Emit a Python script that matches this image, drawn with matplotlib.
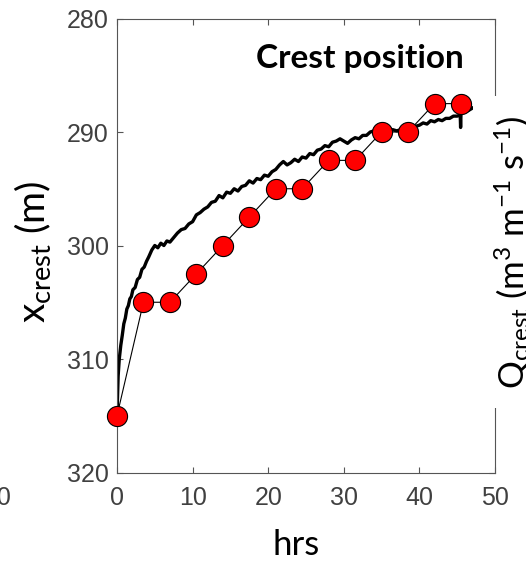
import matplotlib
matplotlib.use('Agg')
import matplotlib.pyplot as plt
from matplotlib.patches import Rectangle

# Observed crest position (markers)
hrs_obs = [0, 3.5, 7, 10.5, 14, 17.5, 21, 24.5, 28, 31.5, 35, 38.5, 42, 45.5]
x_obs = [315, 305, 305, 302.5, 300, 297.5, 295, 295, 292.5, 292.5, 290, 290, 287.5, 287.5]

# Modelled crest position (black noisy line)
hrs_mod = [0.0, 0.05, 0.15, 0.3, 0.5, 0.7, 0.9, 1.1, 1.3, 1.5, 1.7, 1.9, 2.1, 2.4, 2.7,
           3.0, 3.3, 3.6, 3.9, 4.2, 4.6, 5.0, 5.4, 5.8, 6.2, 6.6, 7.0, 7.5, 8.0, 8.5,
           9.0, 9.5, 10.0, 10.5, 11.0, 11.5, 12.0, 12.5, 13.0, 13.5, 14.0, 14.5, 15.0,
           15.5, 16.0, 16.5, 17.0, 17.5, 18.0, 18.5, 19.0, 19.5, 20.0, 20.5, 21.0, 21.5,
           22.0, 22.5, 23.0, 23.5, 24.0, 24.5, 25.0, 25.5, 26.0, 26.5, 27.0, 27.5, 28.0,
           28.5, 29.0, 29.5, 30.0, 30.5, 31.0, 31.5, 32.0, 32.5, 33.0, 33.5, 34.0, 34.5,
           35.0, 35.5, 36.0, 36.5, 37.0, 37.5, 38.0, 38.5, 39.0, 39.5, 40.0, 40.5, 41.0,
           41.5, 42.0, 42.5, 43.0, 43.5, 44.0, 44.5, 45.0, 45.4, 45.45, 45.5, 46.0, 46.5, 47.0]
x_mod = [315.0, 313.8, 311.5, 310.0, 308.8, 307.9, 306.9, 306.4, 305.6, 305.3, 304.7, 304.5,
         303.9, 303.7, 303.0, 302.8, 302.1, 301.9, 301.4, 301.0, 300.4, 300.0, 300.2, 299.8,
         300.0, 299.6, 299.7, 299.3, 298.9, 298.6, 298.5, 298.1, 297.9, 297.3, 297.1, 296.8,
         296.6, 296.2, 296.1, 295.6, 295.8, 295.3, 295.4, 295.0, 295.2, 294.8, 294.7, 294.3,
         294.5, 294.1, 294.2, 293.8, 293.9, 293.5, 293.3, 292.9, 292.6, 292.9, 292.7, 292.4,
         292.6, 292.2, 292.3, 291.9, 292.0, 291.6, 291.5, 291.2, 291.3, 290.9, 290.8, 290.6,
         290.8, 291.0, 290.7, 290.5, 290.6, 290.3, 290.3, 290.0, 289.9, 289.8, 289.8, 289.9,
         289.8, 289.8, 289.9, 289.8, 289.8, 289.7, 289.7, 289.5, 289.4, 289.2, 289.3, 289.0,
         289.1, 288.9, 289.0, 288.8, 288.8, 288.6, 288.6, 288.5, 289.6, 288.4, 288.2, 288.1, 287.9]

xticks = [0, 10, 20, 30, 40, 50]
yticks = [280, 290, 300, 310, 320]

label_font = 'Lato'
tick_font = 'Liberation Sans'
axis_col = '#555555'
tick_col = '#404040'

plt.rcParams['mathtext.fontset'] = 'custom'
plt.rcParams['mathtext.rm'] = label_font
plt.rcParams['mathtext.default'] = 'regular'
plt.rcParams['font.family'] = label_font

fig = plt.figure(figsize=(5.26, 5.62), dpi=100)
ax = fig.add_axes([117 / 526, 1 - 472.5 / 562, 378 / 526, 454 / 562])

ax.plot(hrs_mod, x_mod, color='black', lw=2.4, zorder=2)
ax.plot(hrs_obs, x_obs, color='black', lw=0.8, marker='o', markersize=14.5,
        markerfacecolor='red', markeredgecolor='black', markeredgewidth=0.8,
        zorder=3, clip_on=False)

ax.set_xlim(0, 50)
ax.set_ylim(320, 280)
ax.set_xticks(xticks)
ax.set_yticks(yticks)
ax.tick_params(direction='in', length=4, width=0.8, color=axis_col, labelcolor=tick_col,
               labelsize=18, top=True, right=True)
ax.tick_params(axis='x', pad=10)
ax.tick_params(axis='y', pad=6)
for lab in ax.get_xticklabels() + ax.get_yticklabels():
    lab.set_fontfamily(tick_font)
for sp in ax.spines.values():
    sp.set_color(axis_col)
    sp.set_linewidth(0.8)

ax.text(0.643, 0.891, 'Crest position', transform=ax.transAxes, ha='center',
        va='baseline', fontsize=24, fontweight='bold')

fig.text(296.5 / 526, 1 - 555 / 562, 'hrs', ha='center', va='baseline', fontsize=25)
fig.text(32.5 / 526, 1 - 251.5 / 562, 'x$_{crest}$ (m)', rotation=90, ha='center',
         va='center', fontsize=28)

# neighbouring panel fragments
fig.text(10.5 / 526, 1 - 486 / 562, '50', ha='right', va='top', fontsize=18,
         color=tick_col, family=tick_font)
fig.patches.append(Rectangle((473 / 526, 1 - 408 / 562), 53 / 526, 312 / 562,
                             transform=fig.transFigure, facecolor='white',
                             edgecolor='none', zorder=5))
fig.text(492 / 526, 1 - 252.5 / 562, 'Q$_{crest}$ (m$^3$ m$^{-1}$ s$^{-1}$)',
         rotation=90, ha='left', va='center', fontsize=25, zorder=6)

plt.savefig('out.png', dpi=100)
plt.close()
